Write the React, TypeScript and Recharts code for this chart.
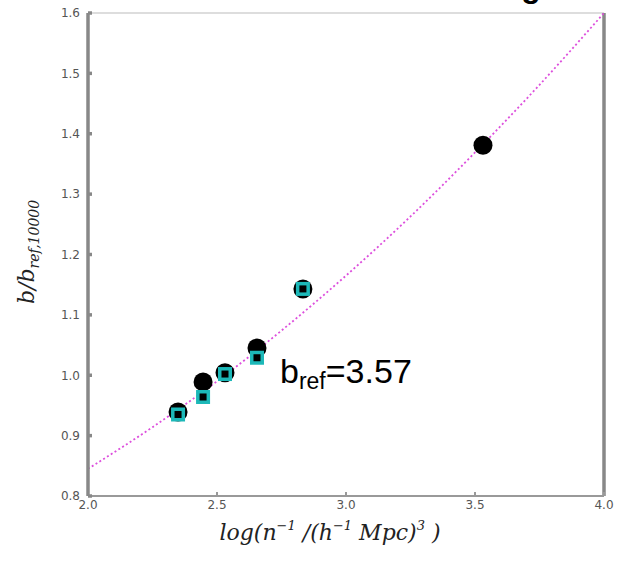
import { ComposedChart, Line, ReferenceLine, Scatter, XAxis, YAxis } from "recharts";

// values
const xTicks = [2.0, 2.5, 3.0, 3.5, 4.0];
const yTicks = [0.8, 0.9, 1.0, 1.1, 1.2, 1.3, 1.4, 1.5, 1.6];

const circleX = [2.349, 2.446, 2.531, 2.655, 2.833, 3.531];
const circleY = [0.939, 0.989, 1.004, 1.045, 1.143, 1.381];

const squareX = [2.349, 2.446, 2.531, 2.655, 2.833];
const squareY = [0.935, 0.964, 1.002, 1.029, 1.143];

const fitX = [2.0, 2.25, 2.5, 2.75, 3.0, 3.25, 3.5, 3.75, 4.0];
const fitY = [0.845, 0.914, 0.99, 1.074, 1.165, 1.263, 1.369, 1.481, 1.6];

const circles = circleX.map((x, i) => ({ x, y: circleY[i] }));
const squares = squareX.map((x, i) => ({ x, y: squareY[i] }));
const fit = fitX.map((x, i) => ({ x, y: fitY[i] }));

const W = 617;
const H = 562;

const BlackDot = (p: any) => <circle cx={p.cx} cy={p.cy} r={9.5} fill="#000" />;
const CyanSquare = (p: any) => (
  <rect x={p.cx - 7} y={p.cy - 7} width={14} height={14} fill="#1cb8b8" />
);
const InnerSquare = (p: any) => (
  <rect x={p.cx - 3.5} y={p.cy - 3.5} width={7} height={7} fill="#000" />
);

export default function App() {
  return (
    <div style={{ position: "absolute", left: 0, top: 0, width: W, height: H, background: "#fff" }}>
      <ComposedChart width={W} height={H} margin={{ top: 13, right: 13, left: 0, bottom: 0 }}>
        <XAxis
          dataKey="x"
          type="number"
          domain={[2, 4]}
          ticks={xTicks}
          allowDataOverflow
          height={66}
          stroke="#999"
          strokeWidth={2}
          tickSize={-4}
          tickMargin={8}
          tick={{ fontSize: 12, fill: "#555", fontFamily: "DejaVu Sans" }}
          tickFormatter={(v) => v.toFixed(1)}
        />
        <YAxis
          type="number"
          domain={[0.8, 1.6]}
          ticks={yTicks}
          allowDataOverflow
          width={88}
          stroke="#888"
          strokeWidth={3.5}
          tickSize={-4}
          tickMargin={12}
          tick={{ fontSize: 12, fill: "#555", fontFamily: "DejaVu Sans" }}
          tickFormatter={(v) => v.toFixed(1)}
        />
        <ReferenceLine y={1.6} stroke="#ddd" strokeWidth={2} />
        <ReferenceLine x={4} stroke="#888" strokeWidth={3.5} />
        <Scatter data={circles} dataKey="y" shape={BlackDot} isAnimationActive={false} />
        <Scatter data={squares} dataKey="y" shape={CyanSquare} isAnimationActive={false} />
        <Scatter data={squares} dataKey="y" shape={InnerSquare} isAnimationActive={false} />
        <Line
          data={fit}
          dataKey="y"
          type="monotone"
          stroke="#dd50dd"
          strokeWidth={1.8}
          strokeDasharray="2 2.5"
          dot={false}
          isAnimationActive={false}
        />
      </ComposedChart>
      <svg
        width={W}
        height={H}
        style={{ position: "absolute", left: 0, top: 0, pointerEvents: "none" }}
      >
        <text x={531} y={-3} textAnchor="middle" fontSize={32} fontWeight="bold" fontFamily="Liberation Sans">
          g
        </text>
        <text x={280} y={383} fontFamily="Liberation Sans" fill="#000">
          <tspan fontSize={34}>b</tspan>
          <tspan fontSize={23} dy={6}>ref</tspan>
          <tspan fontSize={34} dy={-6}>=3.57</tspan>
        </text>
        <text
          transform="translate(34,252) rotate(-90)"
          textAnchor="middle"
          fontFamily="DejaVu Serif"
          fontStyle="italic"
          fill="#222"
        >
          <tspan fontSize={22}>b/b</tspan>
          <tspan fontSize={14} dy={5}>ref,10000</tspan>
        </text>
        <text x={330} y={540} textAnchor="middle" fontFamily="DejaVu Serif" fontStyle="italic" fill="#222">
          <tspan fontSize={22}>log(n</tspan>
          <tspan fontSize={13} dy={-10}>−1</tspan>
          <tspan fontSize={22} dy={10}> /(h</tspan>
          <tspan fontSize={13} dy={-10}>−1</tspan>
          <tspan fontSize={22} dy={10}> Mpc)</tspan>
          <tspan fontSize={13} dy={-10}>3</tspan>
          <tspan fontSize={22} dy={10}> )</tspan>
        </text>
      </svg>
    </div>
  );
}
